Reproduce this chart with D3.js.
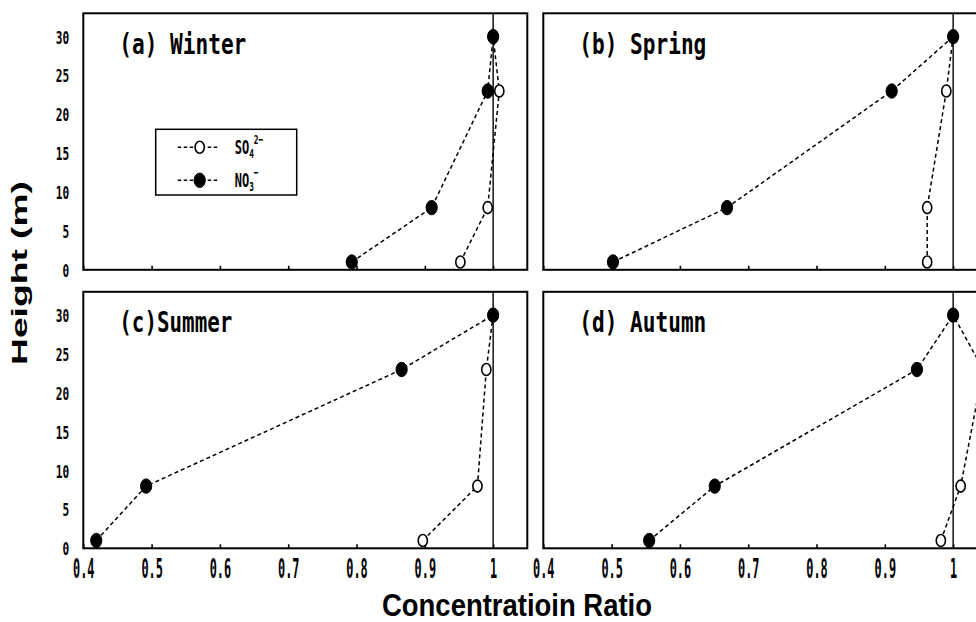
<!DOCTYPE html>
<html>
<head>
<meta charset="utf-8">
<script src="https://cdn.jsdelivr.net/npm/d3@7"></script>
<style>
  body { margin: 0; background: #fff; }
  svg { display: block; }
</style>
</head>
<body>
<div id="chart"></div>
<script>
// Data (ratio to the 30 m value)
const heights = [1, 8, 23, 30];
const panelTitles = ["(a) Winter", "(b) Spring", "(c)Summer", "(d) Autumn"];
const so4Winter = [0.952, 0.992, 1.009, 1.0];
const no3Winter = [0.793, 0.910, 0.992, 1.0];
const so4Spring = [0.962, 0.962, 0.990, 1.0];
const no3Spring = [0.502, 0.669, 0.910, 1.0];
const so4Summer = [0.897, 0.977, 0.990, 1.0];
const no3Summer = [0.419, 0.492, 0.866, 1.0];
const so4Autumn = [0.982, 1.011, 1.044, 1.0];
const no3Autumn = [0.555, 0.651, 0.947, 1.0];
const xTicks = [0.4, 0.5, 0.6, 0.7, 0.8, 0.9, 1.0];
const xTickLabels = ["0.4", "0.5", "0.6", "0.7", "0.8", "0.9", "1"];
const yTicks = [0, 5, 10, 15, 20, 25, 30];

const W = 976, H = 622;
const svg = d3.select("#chart").append("svg")
    .attr("width", W)
    .attr("height", H);

const panels = [
  {title: panelTitles[0], so4: so4Winter, no3: no3Winter, left: 83.3, top: 13.3, col: 0, row: 0},
  {title: panelTitles[1], so4: so4Spring, no3: no3Spring, left: 543.3, top: 13.3, col: 1, row: 0},
  {title: panelTitles[2], so4: so4Summer, no3: no3Summer, left: 83.3, top: 291.8, col: 0, row: 1},
  {title: panelTitles[3], so4: so4Autumn, no3: no3Autumn, left: 543.3, top: 291.8, col: 1, row: 1}
];
const pw = 444, ph = 256.5;
const mono = "'DejaVu Sans Mono', monospace";

function drawMarker(g, x, y, filled) {
  g.append("ellipse")
      .attr("cx", x).attr("cy", y)
      .attr("rx", filled ? 5.6 : 4.6)
      .attr("ry", filled ? 7.2 : 6)
      .attr("fill", filled ? "#000" : "#fff")
      .attr("stroke", "#000")
      .attr("stroke-width", filled ? 1 : 1.6);
}

panels.forEach(p => {
  const x = d3.scaleLinear().domain([0.4, 1.05]).range([0, pw]);
  const y = d3.scaleLinear().domain([0, 33]).range([ph, 0]);

  const g = svg.append("g")
      .attr("transform", `translate(${p.left},${p.top})`);

  // frame
  g.append("rect")
      .attr("width", pw).attr("height", ph)
      .attr("fill", "none")
      .attr("stroke", "#000")
      .attr("stroke-width", 2);

  // reference line at ratio 1
  g.append("line")
      .attr("x1", x(1)).attr("x2", x(1))
      .attr("y1", 0).attr("y2", ph)
      .attr("stroke", "#000")
      .attr("stroke-width", 1.4);

  // x axis (inner ticks)
  const xa = g.append("g")
      .attr("transform", `translate(0,${ph})`)
      .call(d3.axisBottom(x)
          .tickValues(xTicks)
          .tickSizeInner(-4)
          .tickSizeOuter(0)
          .tickPadding(0)
          .tickFormat((d, i) => xTickLabels[i]));
  xa.select(".domain").remove();
  xa.selectAll(".tick line").attr("stroke", "#000").attr("stroke-width", 1.6);
  if (p.row === 1) {
    xa.selectAll(".tick text")
        .attr("y", 0).attr("dy", 0)
        .attr("transform", "translate(0,30) scale(0.44,1)")
        .attr("font-family", mono)
        .attr("font-weight", "bold")
        .attr("font-size", 27)
        .attr("fill", "#000");
  } else {
    xa.selectAll(".tick text").remove();
  }

  // y axis labels (no tick marks)
  if (p.col === 0) {
    const ya = g.append("g")
        .call(d3.axisLeft(y)
            .tickValues(yTicks)
            .tickSize(0)
            .tickPadding(0));
    ya.select(".domain").remove();
    ya.selectAll(".tick text")
        .attr("x", 0).attr("dy", "0.36em")
        .attr("transform", "translate(-14,0) scale(0.62,1)")
        .attr("font-family", mono)
        .attr("font-weight", "bold")
        .attr("font-size", 18)
        .attr("fill", "#000");
  }

  const line = d3.line()
      .x(d => x(d[0]))
      .y(d => y(d[1]));

  const so4Pts = p.so4.map((v, i) => [v, heights[i]]);
  const no3Pts = p.no3.map((v, i) => [v, heights[i]]);

  [so4Pts, no3Pts].forEach(pts => {
    g.append("path")
        .attr("d", line(pts))
        .attr("fill", "none")
        .attr("stroke", "#000")
        .attr("stroke-width", 1.5)
        .attr("stroke-dasharray", "4,3");
  });
  so4Pts.forEach(d => drawMarker(g, x(d[0]), y(d[1]), false));
  no3Pts.forEach(d => drawMarker(g, x(d[0]), y(d[1]), true));

  // panel title
  g.append("text")
      .attr("x", 36)
      .attr("y", 40.5)
      .attr("font-family", mono)
      .attr("font-weight", "bold")
      .attr("font-size", 28)
      .attr("textLength", p.title.length === 9 ? 113 : 127)
      .attr("lengthAdjust", "spacingAndGlyphs")
      .attr("fill", "#000")
      .text(p.title);
});

// legend in panel (a)
const leg = svg.append("g").attr("transform", "translate(155.7,129.3)");
leg.append("rect")
    .attr("width", 141).attr("height", 65.7)
    .attr("fill", "#fff")
    .attr("stroke", "#000")
    .attr("stroke-width", 1.5);
const legItems = [
  {base: "SO", sub: "4", sup: "2\u2212", filled: false, cy: 18},
  {base: "NO", sub: "3", sup: "\u2212", filled: true, cy: 51}
];
legItems.forEach(it => {
  leg.append("line")
      .attr("x1", 22).attr("x2", 64)
      .attr("y1", it.cy).attr("y2", it.cy)
      .attr("stroke", "#000")
      .attr("stroke-width", 1.4)
      .attr("stroke-dasharray", "3.5,2.5");
  drawMarker(leg, 44, it.cy, it.filled);
  const t = leg.append("g")
      .attr("transform", `translate(79,${it.cy + 7}) scale(0.6,1)`)
      .append("text")
      .attr("font-family", mono)
      .attr("font-weight", "bold")
      .attr("font-size", 20)
      .attr("fill", "#000");
  t.append("tspan").text(it.base);
  t.append("tspan").attr("font-size", 13).attr("dy", 4).text(it.sub);
  t.append("tspan").attr("font-size", 13).attr("dy", -14).text(it.sup);
});

// axis titles
svg.append("text")
    .attr("transform", "translate(27,273) rotate(-90)")
    .attr("text-anchor", "middle")
    .attr("font-family", "'Liberation Sans', Arial, sans-serif")
    .attr("font-weight", "bold")
    .attr("font-size", 22)
    .attr("textLength", 184)
    .attr("lengthAdjust", "spacingAndGlyphs")
    .attr("fill", "#000")
    .text("Height  (m)");

svg.append("text")
    .attr("x", 517)
    .attr("y", 616)
    .attr("text-anchor", "middle")
    .attr("font-family", "'Liberation Sans', Arial, sans-serif")
    .attr("font-weight", "bold")
    .attr("font-size", 32)
    .attr("textLength", 270)
    .attr("lengthAdjust", "spacingAndGlyphs")
    .attr("fill", "#000")
    .text("Concentratioin Ratio");
</script>
</body>
</html>
